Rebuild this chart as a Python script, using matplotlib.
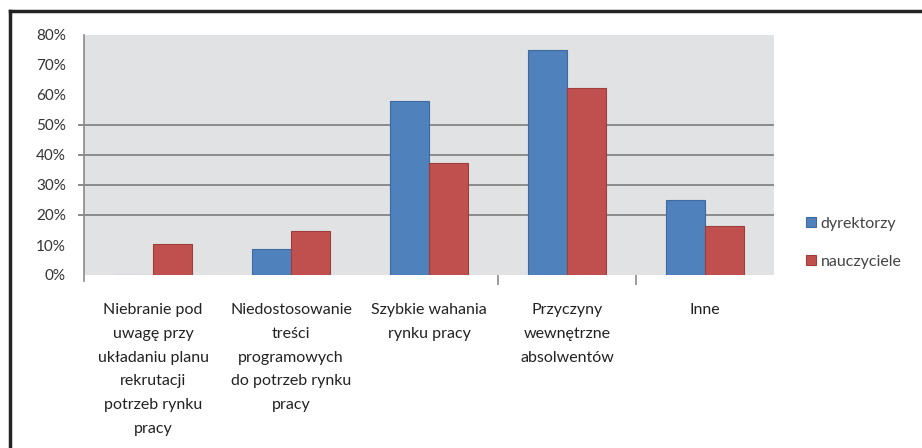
import numpy as np
import matplotlib
matplotlib.use('Agg')
import matplotlib.pyplot as plt
from matplotlib.lines import Line2D

categories = [
    'Niebranie pod\nuwagę przy\nukładaniu planu\nrekrutacji\npotrzeb rynku\npracy',
    'Niedostosowanie\ntreści\nprogramowych\ndo potrzeb rynku\npracy',
    'Szybkie wahania\nrynku pracy',
    'Przyczyny\nwewnętrzne\nabsolwentów',
    'Inne',
]
dyrektorzy = [0.0, 0.086, 0.58, 0.75, 0.25]
nauczyciele = [0.105, 0.146, 0.372, 0.624, 0.164]
y_ticks = [0, 0.1, 0.2, 0.3, 0.4, 0.5, 0.6, 0.7, 0.8]
y_labels = ['0%', '10%', '20%', '30%', '40%', '50%', '60%', '70%', '80%']
grid_levels = [0.2, 0.3, 0.4, 0.5]

plt.rcParams['font.family'] = ['Lato', 'DejaVu Sans']

fig = plt.figure(figsize=(9.22, 4.48), dpi=100)
ax = fig.add_axes([84 / 922, 173 / 448, 690 / 922, 240 / 448])
ax.set_facecolor('#e1e2e4')

x = np.arange(len(categories))
w = 0.286
ax.bar(x - w / 2, dyrektorzy, w, color='#4f81bd', edgecolor='#3d6a9f', linewidth=0.8,
       label='dyrektorzy', zorder=3)
ax.bar(x + w / 2, nauczyciele, w, color='#c0504d', edgecolor='#9c3e3b', linewidth=0.8,
       label='nauczyciele', zorder=3)

ax.set_xlim(-0.5, 4.5)
ax.set_ylim(0, 0.8)

# gridlines only visible in the middle band of the original scan
ax.hlines(grid_levels, -0.545, 4.5, colors='#8a8a8a', linewidth=1.4, zorder=2, clip_on=False)

for s in ['top', 'right', 'bottom']:
    ax.spines[s].set_visible(False)
ax.spines['left'].set_color('#8a8a8a')
ax.spines['left'].set_linewidth(1.2)
ax.spines['left'].set_bounds(-0.02, 0.8)

ax.set_yticks(y_ticks)
ax.set_yticklabels(y_labels, fontsize=11, color='#333333')
ax.tick_params(axis='y', length=0, pad=13)

ax.set_xticks(x)
ax.set_xticklabels(categories, fontsize=11.5, color='#222222', linespacing=1.9, va='top')
ax.tick_params(axis='x', length=0, pad=20)
ax.set_xticks([2.5, 3.5], minor=True)
ax.tick_params(axis='x', which='minor', length=7, width=1.2, color='#8a8a8a')

ax.legend(loc='center left', bbox_to_anchor=(1.025, 0.135), frameon=False, fontsize=11.5,
          handlelength=0.65, handleheight=0.65, handletextpad=0.3, labelspacing=1.5,
          labelcolor='#444444')

# frame around the figure (top and left visible in the scan)
fig.add_artist(Line2D([10 / 922, 1], [1 - 11 / 448, 1 - 11 / 448], color='#222222',
                      linewidth=2.5, transform=fig.transFigure))
fig.add_artist(Line2D([10 / 922, 10 / 922], [0, 1 - 11 / 448], color='#222222',
                      linewidth=2.5, transform=fig.transFigure))

fig.savefig('out.png', dpi=100)
